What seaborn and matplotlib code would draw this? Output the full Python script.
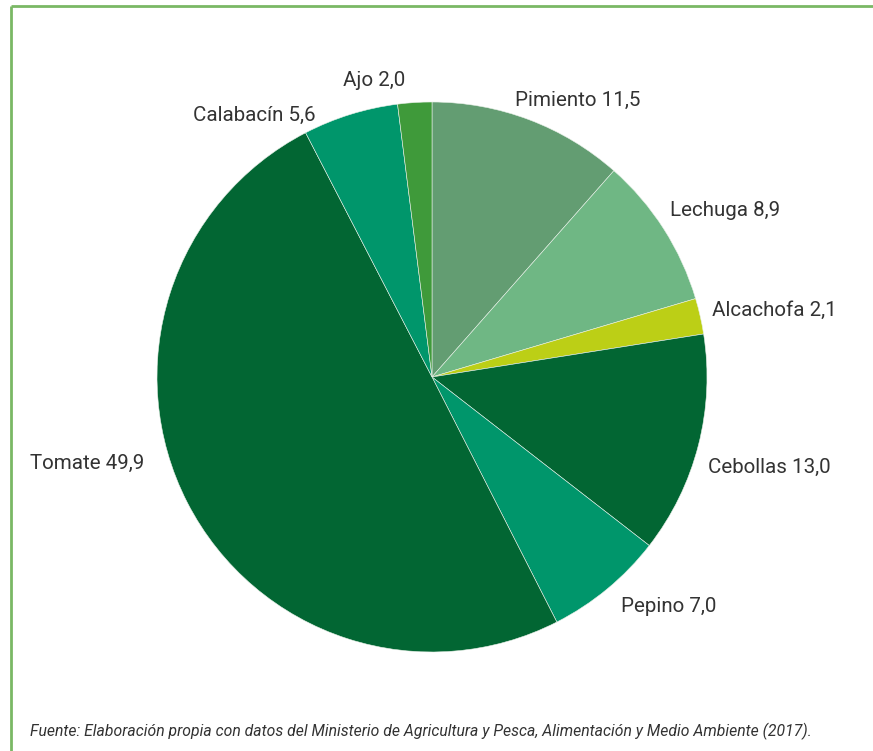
import matplotlib
matplotlib.use("Agg")
import matplotlib.pyplot as plt
import seaborn as sns

sns.set_theme(style="white")
plt.rcParams['font.family'] = ['Roboto', 'DejaVu Sans']

categories = ["Pimiento", "Lechuga", "Alcachofa", "Cebollas", "Pepino", "Tomate", "Calabacín", "Ajo"]
values = [11.5, 8.9, 2.1, 13.0, 7.0, 49.9, 5.6, 2.0]
value_labels = ["11,5", "8,9", "2,1", "13,0", "7,0", "49,9", "5,6", "2,0"]
colors = ["#639d72", "#6fb784", "#bccf16", "#026633", "#00966b", "#026633", "#00966b", "#3f9a3a"]
# label anchor positions in pixels (left x, center y from top)
label_pos = [(515, 100), (670, 211), (712, 310), (708, 467), (621, 606), (30, 463), (193, 115), (343, 81)]

W, H = 873, 751
fig = plt.figure(figsize=(W / 100, H / 100), dpi=100)
ax = fig.add_axes([0, 0, 1, 1])

ax.pie(values, colors=colors, startangle=90, counterclock=False,
       center=(432, H - 377), radius=275, frame=True,
       wedgeprops=dict(linewidth=0.4, edgecolor="#e8f0e8"))
ax.set_xlim(0, W)
ax.set_ylim(0, H)
ax.set_aspect("equal")
ax.axis("off")

for cat, lab, (x, y) in zip(categories, value_labels, label_pos):
    ax.text(x, H - y, f"{cat} {lab}", fontsize=14.8, color="#333333",
            ha="left", va="center")

# frame lines (left and top)
ax.plot([11, 11], [0, H - 6], color="#7ab865", lw=2, solid_capstyle="butt")
ax.plot([11, W], [H - 6, H - 6], color="#7ab865", lw=2, solid_capstyle="butt")

ax.text(30, H - 731, "Fuente: Elaboración propia con datos del Ministerio de Agricultura y Pesca, Alimentación y Medio Ambiente (2017).",
        fontsize=11.3, style="italic", color="#333333", ha="left", va="center")

fig.savefig("out.png", dpi=100)
